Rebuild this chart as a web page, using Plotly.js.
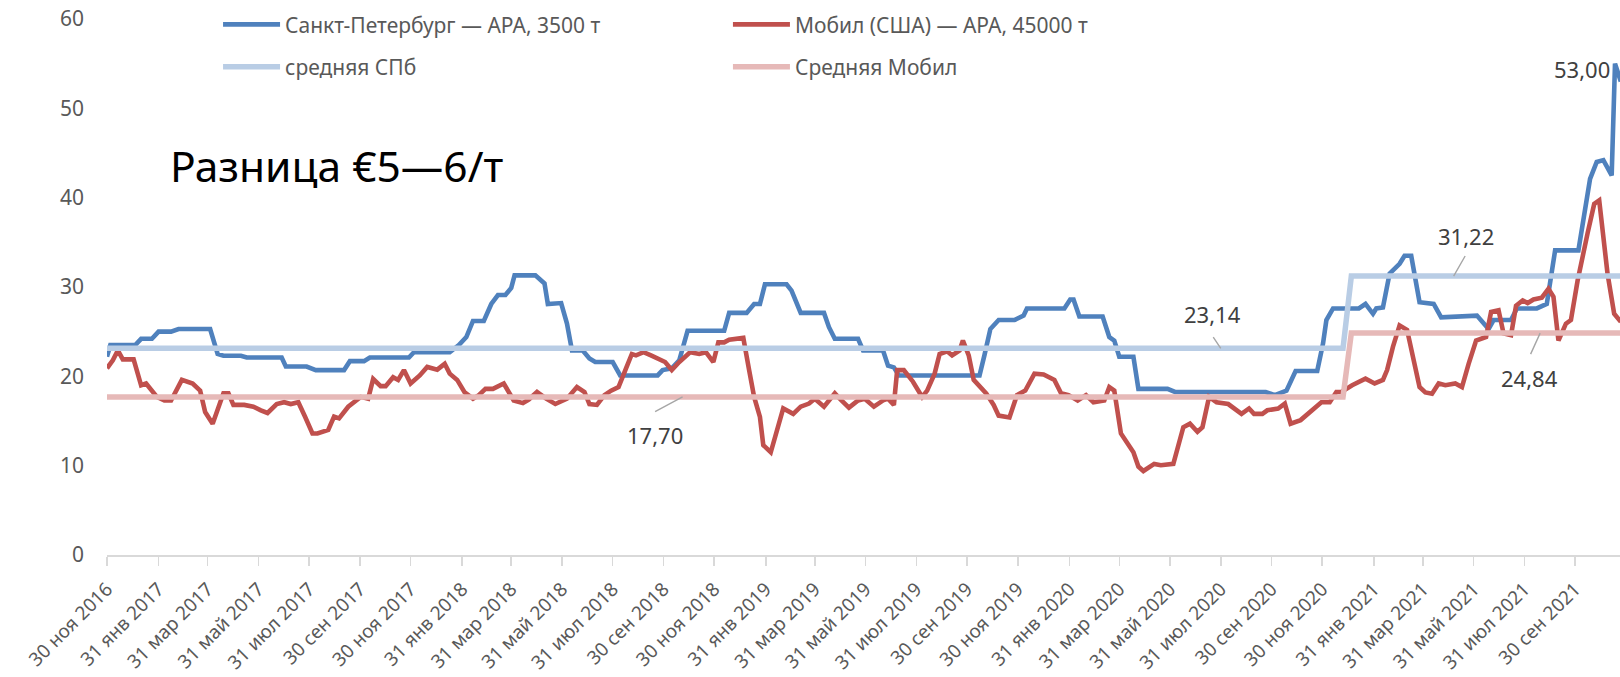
<!DOCTYPE html>
<html>
<head>
<meta charset="utf-8">
<script src="https://cdn.plot.ly/plotly-3.0.1.min.js"></script>
<style>html,body{margin:0;padding:0;background:#fff;}#chart{width:1620px;height:677px;}</style>
</head>
<body>
<div id="chart"></div>
<script>
// ---- Data ----
const spbName = 'Санкт-Петербург — APA, 3500 т';
const mobName = 'Мобил (США) — APA, 45000 т';
const avgSpbName = 'средняя СПб';
const avgMobName = 'Средняя Мобил';

const spbDates = ['2016-11-30','2016-12-04','2017-01-03','2017-01-10','2017-01-23','2017-01-31','2017-02-15','2017-02-24','2017-04-03','2017-04-12','2017-04-19','2017-05-10','2017-05-17','2017-06-28','2017-07-03','2017-07-28','2017-08-08','2017-09-11','2017-09-18','2017-10-05','2017-10-12','2017-11-28','2017-12-04','2018-01-16','2018-01-27','2018-02-05','2018-02-13','2018-02-26','2018-03-07','2018-03-15','2018-03-24','2018-03-31','2018-04-04','2018-04-29','2018-05-10','2018-05-14','2018-05-30','2018-06-06','2018-06-12','2018-06-25','2018-07-03','2018-07-10','2018-07-31','2018-08-09','2018-09-23','2018-09-29','2018-10-10','2018-10-19','2018-10-29','2018-12-12','2018-12-18','2019-01-08','2019-01-17','2019-01-24','2019-01-30','2019-02-25','2019-03-03','2019-03-14','2019-04-11','2019-04-17','2019-04-24','2019-05-22','2019-05-28','2019-06-21','2019-06-27','2019-07-04','2019-07-10','2019-10-15','2019-10-21','2019-10-28','2019-11-07','2019-11-26','2019-12-07','2019-12-11','2020-01-25','2020-02-01','2020-02-05','2020-02-12','2020-03-11','2020-03-19','2020-03-25','2020-03-31','2020-04-17','2020-04-23','2020-05-28','2020-06-06','2020-09-23','2020-10-04','2020-10-18','2020-10-29','2020-11-24','2020-12-01','2020-12-05','2020-12-13','2021-01-13','2021-01-21','2021-01-30','2021-02-03','2021-02-11','2021-02-19','2021-03-03','2021-03-09','2021-03-17','2021-03-27','2021-04-13','2021-04-22','2021-06-04','2021-06-12','2021-06-18','2021-06-24','2021-07-15','2021-07-22','2021-08-15','2021-08-27','2021-09-06','2021-10-04','2021-10-18','2021-10-26','2021-11-03','2021-11-13','2021-11-17','2021-11-24'];
const spbValues = [22.2,23.5,23.5,24.2,24.2,25.0,25.0,25.3,25.3,22.5,22.3,22.3,22.1,22.1,21.1,21.1,20.7,20.7,21.7,21.7,22.1,22.1,22.7,22.7,23.5,24.4,26.2,26.2,28.1,29.1,29.1,29.9,31.3,31.3,30.4,28.1,28.2,25.9,22.9,22.9,22.0,21.6,21.6,20.1,20.1,20.7,20.9,21.8,25.1,25.1,27.1,27.1,28.1,28.1,30.3,30.3,29.6,27.1,27.1,25.5,24.2,24.2,22.9,22.9,21.2,21.0,20.1,20.1,22.4,25.3,26.3,26.3,26.8,27.6,27.6,28.6,28.6,26.7,26.7,24.4,24.0,22.2,22.2,18.6,18.6,18.25,18.25,17.9,18.4,20.6,20.6,23.7,26.3,27.6,27.6,28.1,27.0,27.6,27.7,31.5,32.6,33.5,33.5,28.3,28.1,26.6,26.8,25.9,25.3,26.3,26.3,27.6,27.6,28.1,34.1,34.1,42.1,44.0,44.2,42.5,55.0,53.0];

const mobDates = ['2016-11-30','2016-12-07','2016-12-13','2016-12-19','2017-01-01','2017-01-10','2017-01-16','2017-01-29','2017-02-07','2017-02-15','2017-02-28','2017-03-13','2017-03-22','2017-03-28','2017-04-06','2017-04-12','2017-04-19','2017-04-25','2017-05-01','2017-05-14','2017-05-25','2017-06-03','2017-06-11','2017-06-22','2017-07-01','2017-07-09','2017-07-18','2017-07-26','2017-08-04','2017-08-10','2017-08-23','2017-08-30','2017-09-05','2017-09-16','2017-09-22','2017-10-01','2017-10-10','2017-10-16','2017-10-25','2017-10-31','2017-11-09','2017-11-15','2017-11-22','2017-11-30','2017-12-11','2017-12-20','2018-01-01','2018-01-10','2018-01-16','2018-01-25','2018-02-03','2018-02-13','2018-02-20','2018-02-28','2018-03-09','2018-03-22','2018-04-03','2018-04-14','2018-04-21','2018-05-01','2018-05-12','2018-05-23','2018-06-06','2018-06-18','2018-06-27','2018-07-03','2018-07-12','2018-07-21','2018-07-29','2018-08-07','2018-08-16','2018-08-23','2018-08-28','2018-09-06','2018-09-15','2018-09-23','2018-10-02','2018-10-10','2018-10-19','2018-11-01','2018-11-12','2018-11-20','2018-11-29','2018-12-05','2018-12-12','2018-12-18','2019-01-04','2019-01-11','2019-01-17','2019-01-24','2019-01-28','2019-02-06','2019-02-12','2019-02-21','2019-03-05','2019-03-14','2019-03-24','2019-03-31','2019-04-11','2019-04-24','2019-05-02','2019-05-11','2019-05-22','2019-05-30','2019-06-10','2019-06-21','2019-06-27','2019-07-04','2019-07-08','2019-07-16','2019-07-27','2019-08-07','2019-08-13','2019-08-22','2019-08-28','2019-09-06','2019-09-12','2019-09-21','2019-09-25','2019-10-02','2019-10-08','2019-10-17','2019-10-23','2019-11-01','2019-11-07','2019-11-20','2019-11-29','2019-12-09','2019-12-20','2019-12-31','2020-01-13','2020-01-21','2020-01-30','2020-02-10','2020-02-20','2020-02-29','2020-03-13','2020-03-19','2020-03-25','2020-04-02','2020-04-17','2020-04-23','2020-04-29','2020-05-12','2020-05-20','2020-06-04','2020-06-16','2020-06-24','2020-07-03','2020-07-09','2020-07-17','2020-07-26','2020-08-09','2020-08-25','2020-09-03','2020-09-09','2020-09-19','2020-09-25','2020-10-08','2020-10-16','2020-10-23','2020-11-04','2020-11-15','2020-11-29','2020-12-09','2020-12-17','2020-12-23','2021-01-05','2021-01-21','2021-02-01','2021-02-11','2021-02-16','2021-02-23','2021-03-03','2021-03-12','2021-03-17','2021-03-27','2021-04-03','2021-04-11','2021-04-19','2021-04-27','2021-05-09','2021-05-17','2021-05-25','2021-06-03','2021-06-15','2021-06-21','2021-06-30','2021-07-06','2021-07-15','2021-07-21','2021-07-29','2021-08-04','2021-08-11','2021-08-21','2021-08-29','2021-09-04','2021-09-10','2021-09-19','2021-09-25','2021-10-03','2021-10-15','2021-10-23','2021-10-29','2021-11-02','2021-11-08','2021-11-16','2021-11-24'];
const mobValues = [20.9,21.8,22.9,21.9,21.9,19.0,19.2,17.7,17.3,17.3,19.6,19.2,18.4,16.0,14.7,16.4,18.1,18.1,16.8,16.8,16.6,16.2,15.9,16.9,17.1,16.9,17.1,15.5,13.6,13.6,14.0,15.5,15.3,16.6,17.1,17.7,17.5,19.7,18.9,18.9,19.9,19.6,20.7,19.2,20.1,21.05,20.75,21.4,20.3,19.6,18.2,17.5,17.9,18.6,18.6,19.2,17.3,17.0,17.4,18.25,17.5,16.9,17.5,18.8,18.25,16.9,16.8,17.9,18.4,18.8,20.9,22.5,22.35,22.7,22.35,22.0,21.6,20.7,21.6,22.7,22.5,22.7,21.6,23.8,23.8,24.1,24.3,20.7,17.7,15.45,12.3,11.5,13.4,16.4,15.8,16.6,16.95,17.5,16.6,18.1,17.3,16.5,17.3,17.5,16.6,17.3,17.5,16.8,20.7,20.7,19.4,17.7,18.4,20.3,22.5,22.8,22.35,22.9,24.0,22.35,19.6,18.8,18.1,16.8,15.6,15.4,17.9,18.4,20.3,20.2,19.6,18.1,17.9,17.3,17.9,17.1,17.3,18.8,18.4,13.6,11.5,9.9,9.4,10.2,10.05,10.2,14.3,14.7,13.8,14.3,17.7,17.1,16.9,15.8,16.4,15.8,15.8,16.2,16.4,16.95,14.7,15.1,16.0,17.1,17.1,18.25,18.25,19.0,19.74,19.2,19.6,20.7,23.3,25.7,25.2,22.9,18.8,18.2,18.06,19.2,19.0,19.2,18.8,21.4,24.0,24.4,27.2,27.4,24.8,24.6,27.9,28.5,28.2,28.6,28.8,29.8,28.9,24.0,25.9,26.3,30.7,36.0,39.3,39.7,36.7,31.5,27.0,26.1];

const avgDates = ['2016-11-30','2020-12-25','2021-01-04','2021-11-24'];
const avgSpbValues = [23.14, 23.14, 31.22, 31.22];
const avgMobValues = [17.70, 17.70, 24.84, 24.84];

const tickDates = ['2016-11-30','2017-01-31','2017-03-31','2017-05-31','2017-07-31','2017-09-30','2017-11-30','2018-01-31','2018-03-31','2018-05-31','2018-07-31','2018-09-30','2018-11-30','2019-01-31','2019-03-31','2019-05-31','2019-07-31','2019-09-30','2019-11-30','2020-01-31','2020-03-31','2020-05-31','2020-07-31','2020-09-30','2020-11-30','2021-01-31','2021-03-31','2021-05-31','2021-07-31','2021-09-30'];
const tickLabels = ['30 ноя 2016','31 янв 2017','31 мар 2017','31 май 2017','31 июл 2017','30 сен 2017','30 ноя 2017','31 янв 2018','31 мар 2018','31 май 2018','31 июл 2018','30 сен 2018','30 ноя 2018','31 янв 2019','31 мар 2019','31 май 2019','31 июл 2019','30 сен 2019','30 ноя 2019','31 янв 2020','31 мар 2020','31 май 2020','31 июл 2020','30 сен 2020','30 ноя 2020','31 янв 2021','31 мар 2021','31 май 2021','31 июл 2021','30 сен 2021'];

// data labels
const labelPoints = [
  {x: '2018-10-23', y: 17.70, text: '17,70'},
  {x: '2020-07-31', y: 23.14, text: '23,14'},
  {x: '2021-05-07', y: 31.22, text: '31,22'},
  {x: '2021-08-19', y: 24.84, text: '24,84'}
];
const peakLabel = {x: '2021-11-17', y: 55.0, text: '53,00'};
const noteText = 'Разница €5—6/т';

// ---- Styling ----
const FONT = 'Noto Sans, Open Sans, sans-serif';
const GREY = '#595959';
const LABEL = '#404040';

const traces = [
  {x: spbDates, y: spbValues, name: spbName, type: 'scatter', mode: 'lines',
   line: {color: '#4F81BD', width: 4.6}, legend: 'legend', legendgroup: 'a'},
  {x: mobDates, y: mobValues, name: mobName, type: 'scatter', mode: 'lines',
   line: {color: '#C0504D', width: 4.6}, legend: 'legend2', legendgroup: 'c'},
  {x: avgDates, y: avgSpbValues, name: avgSpbName, type: 'scatter', mode: 'lines',
   line: {color: '#B9CDE5', width: 5.5}, legend: 'legend', legendgroup: 'b'},
  {x: avgDates, y: avgMobValues, name: avgMobName, type: 'scatter', mode: 'lines',
   line: {color: '#E6B9B8', width: 5.5}, legend: 'legend2', legendgroup: 'd'}
];

const offsets = [
  {tail: [-28, 15], txt: [-28, -38]},
  {tail: [-8, -12], txt: [-8, 34]},
  {tail: [12, -21], txt: [12, 40]},
  {tail: [-10, 22], txt: [-11, -45]}
];

const annotations = [];
labelPoints.forEach((p, i) => {
  annotations.push({x: p.x, y: p.y, xref: 'x', yref: 'y', text: ' ', showarrow: true,
    arrowhead: 0, arrowwidth: 1.4, arrowcolor: '#a6a6a6', ax: offsets[i].tail[0], ay: offsets[i].tail[1],
    standoff: 0, startstandoff: 0, font: {size: 1}, borderpad: 0});
  annotations.push({x: p.x, y: p.y, xref: 'x', yref: 'y', text: p.text, showarrow: false,
    xshift: offsets[i].txt[0], yshift: offsets[i].txt[1],
    font: {family: FONT, size: 22, color: LABEL}});
});
annotations.push({x: peakLabel.x, y: peakLabel.y, xref: 'x', yref: 'y', text: peakLabel.text,
  showarrow: false, xanchor: 'right', xshift: -3, yshift: -5,
  font: {family: FONT, size: 22, color: LABEL}});
annotations.push({x: 0.040, y: 43.6, xref: 'paper', yref: 'y', text: noteText, showarrow: false,
  xanchor: 'left', yanchor: 'middle', font: {family: FONT, size: 42.5, color: '#000000'}});

const layout = {
  width: 1620, height: 677,
  margin: {l: 107, r: 0, t: 19, b: 122, pad: 0},
  paper_bgcolor: '#ffffff', plot_bgcolor: '#ffffff',
  font: {family: FONT, color: GREY},
  showlegend: true,
  xaxis: {
    type: 'date', range: ['2016-11-30', '2021-11-23'],
    tickmode: 'array', tickvals: tickDates, ticktext: tickLabels, tickangle: -45,
    ticks: 'outside', ticklen: 9, tickwidth: 1.5, tickcolor: '#d9d9d9',
    ticklabelstandoff: 5,
    showline: true, linecolor: '#d9d9d9', linewidth: 1.5,
    showgrid: false, zeroline: false,
    tickfont: {family: FONT, size: 19, color: GREY}
  },
  yaxis: {
    range: [0, 60], tickmode: 'linear', tick0: 0, dtick: 10,
    showgrid: false, zeroline: false, showline: false, ticks: '',
    ticklabelstandoff: 22,
    tickfont: {family: FONT, size: 21, color: GREY}
  },
  legend: {x: 0.0734, y: 1.0275, xanchor: 'left', yanchor: 'top', orientation: 'v',
    bgcolor: 'rgba(0,0,0,0)', itemwidth: 57, tracegroupgap: 12,
    font: {family: FONT, size: 21, color: GREY}},
  legend2: {x: 0.4104, y: 1.0275, xanchor: 'left', yanchor: 'top', orientation: 'v',
    bgcolor: 'rgba(0,0,0,0)', itemwidth: 57, tracegroupgap: 12,
    font: {family: FONT, size: 21, color: GREY}},
  annotations: annotations
};

Plotly.newPlot('chart', traces, layout, {displayModeBar: false, staticPlot: true});
</script>
</body>
</html>
